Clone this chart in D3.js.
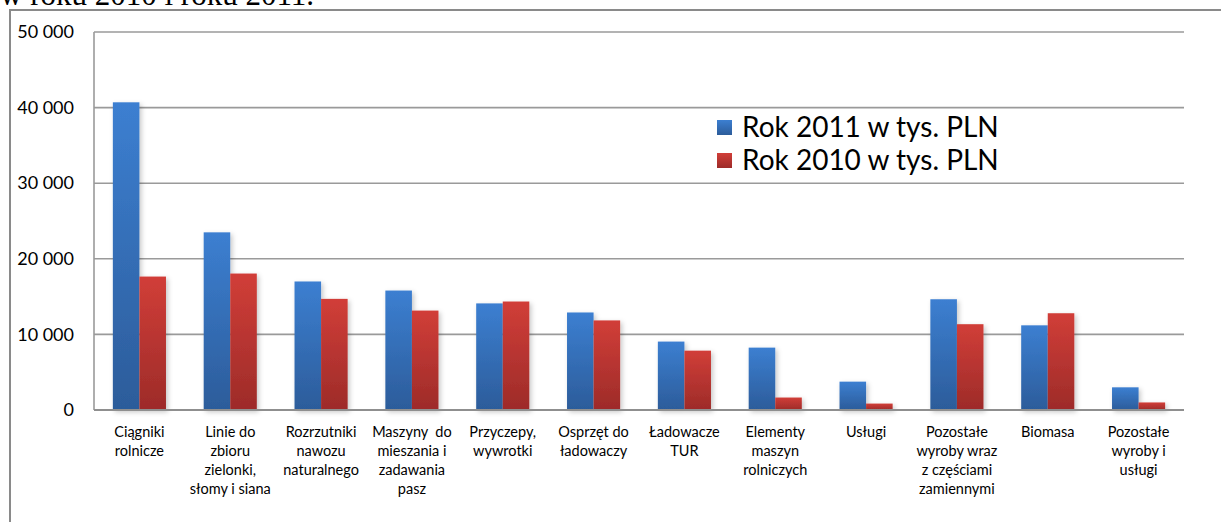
<!DOCTYPE html>
<html>
<head>
<meta charset="utf-8">
<script src="https://cdn.jsdelivr.net/npm/d3@7"></script>
<style>
  html, body { margin: 0; padding: 0; background: #fff; }
  svg { display: block; }
</style>
</head>
<body>
<svg id="chart" width="1221" height="522"></svg>
<script>
// ---- data ----
const categories = [
  "Ciągniki rolnicze",
  "Linie do zbioru zielonki, słomy i siana",
  "Rozrzutniki nawozu naturalnego",
  "Maszyny do mieszania i zadawania pasz",
  "Przyczepy, wywrotki",
  "Osprzęt do ładowaczy",
  "Ładowacze TUR",
  "Elementy maszyn rolniczych",
  "Usługi",
  "Pozostałe wyroby wraz z częściami zamiennymi",
  "Biomasa",
  "Pozostałe wyroby i usługi"
];
const categoryLines = [
  ["Ciągniki", "rolnicze"],
  ["Linie do", "zbioru", "zielonki,", "słomy i siana"],
  ["Rozrzutniki", "nawozu", "naturalnego"],
  ["Maszyny  do", "mieszania i", "zadawania", "pasz"],
  ["Przyczepy,", "wywrotki"],
  ["Osprzęt do", "ładowaczy"],
  ["Ładowacze", "TUR"],
  ["Elementy", "maszyn", "rolniczych"],
  ["Usługi"],
  ["Pozostałe", "wyroby wraz", "z częściami", "zamiennymi"],
  ["Biomasa"],
  ["Pozostałe", "wyroby i", "usługi"]
];
const seriesNames = ["Rok 2011 w tys. PLN", "Rok 2010 w tys. PLN"];
const values2011 = [40700, 23500, 17000, 15800, 14100, 12900, 9050, 8250, 3750, 14650, 11200, 3000];
const values2010 = [17650, 18050, 14700, 13150, 14350, 11850, 7850, 1650, 850, 11350, 12800, 1000];
const yTicks = [0, 10000, 20000, 30000, 40000, 50000];
const titleText = "w roku 2010 i roku 2011.";

// ---- drawing ----
const svg = d3.select("#chart");
const font = "Lato, 'Open Sans', sans-serif";

const defs = svg.append("defs");
function grad(id, top, bottom) {
  const g = defs.append("linearGradient").attr("id", id)
    .attr("x1", 0).attr("y1", 0).attr("x2", 0).attr("y2", 1);
  g.append("stop").attr("offset", "0%").attr("stop-color", top);
  g.append("stop").attr("offset", "100%").attr("stop-color", bottom);
}
grad("gBlue", "#3c7fd1", "#2c5c9a");
grad("gRed", "#d13e38", "#9d2b29");
const f = defs.append("filter").attr("id", "shadow")
  .attr("x", "-30%").attr("y", "-10%").attr("width", "160%").attr("height", "130%");
f.append("feDropShadow").attr("dx", 2).attr("dy", 2).attr("stdDeviation", 2.5)
  .attr("flood-color", "#000").attr("flood-opacity", 0.22);

// title (cut off at top, as in the reference)
svg.append("text").attr("x", 0).attr("y", 5)
  .attr("font-family", "'Liberation Serif', 'DejaVu Serif', serif")
  .attr("font-size", 31).attr("fill", "#000").text(titleText);

// outer frame
svg.append("path").attr("d", "M10,522 V10 H1221")
  .attr("fill", "none").attr("stroke", "#8a8a8a").attr("stroke-width", 2);

const x0 = 94, x1 = 1184, yTop = 32, yBot = 410;
const x = d3.scaleBand().domain(categories).range([x0, x1]).paddingInner(0).paddingOuter(0);
const xs = d3.scaleBand().domain(seriesNames).range([0, x.bandwidth()]).paddingInner(0).paddingOuter(0.71);
const y = d3.scaleLinear().domain([0, 50000]).range([yBot, yTop]);

const locale = d3.formatLocale({ decimal: ",", thousands: " ", grouping: [3], currency: ["", ""] });
const fmt = locale.format(",d");

// gridlines
svg.append("g").selectAll("line").data(yTicks.filter(d => d > 0)).join("line")
  .attr("x1", x0).attr("x2", x1)
  .attr("y1", d => y(d)).attr("y2", d => y(d))
  .attr("stroke", "#9a9a9a").attr("stroke-width", 1.6);

// y axis labels
const yAxis = d3.axisLeft(y).tickValues(yTicks).tickFormat(fmt).tickSize(0).tickPadding(20);
const ga = svg.append("g").attr("transform", `translate(${x0},0)`).call(yAxis);
ga.select(".domain").remove();
ga.selectAll("text").attr("font-family", font).attr("font-size", 18).attr("fill", "#000");

// bars
const seriesData = [values2011, values2010];
const fills = ["url(#gBlue)", "url(#gRed)"];
const gb = svg.append("g").attr("filter", "url(#shadow)");
seriesData.forEach((vals, si) => {
  gb.selectAll(null).data(vals).join("rect")
    .attr("x", (d, i) => x(categories[i]) + xs(seriesNames[si]))
    .attr("width", xs.bandwidth())
    .attr("y", d => y(d))
    .attr("height", d => y(0) - y(d))
    .attr("fill", fills[si]);
});

// axes lines
svg.append("line").attr("x1", x0).attr("x2", x0).attr("y1", yTop).attr("y2", yBot)
  .attr("stroke", "#9a9a9a").attr("stroke-width", 1.6);
svg.append("line").attr("x1", x0).attr("x2", x1).attr("y1", yBot).attr("y2", yBot)
  .attr("stroke", "#8f8f8f").attr("stroke-width", 2);

// category labels
const gl = svg.append("g");
categories.forEach((c, i) => {
  const t = gl.append("text")
    .attr("x", x(c) + x.bandwidth() / 2).attr("y", 437)
    .attr("text-anchor", "middle").attr("font-family", font)
    .attr("font-size", 14.5).attr("fill", "#000")
    .attr("xml:space", "preserve");
  categoryLines[i].forEach((ln, k) => {
    t.append("tspan").attr("x", x(c) + x.bandwidth() / 2)
      .attr("dy", k === 0 ? 0 : 19).text(ln);
  });
});

// legend
const legend = svg.append("g");
seriesNames.forEach((s, i) => {
  const yy = 127 + i * 33;
  legend.append("rect").attr("x", 717).attr("y", yy - 7).attr("width", 15).attr("height", 15)
    .attr("fill", fills[i]);
  legend.append("text").attr("x", 742).attr("y", yy + 10)
    .attr("font-family", font).attr("font-size", 28).attr("fill", "#000").text(s);
});
</script>
</body>
</html>
